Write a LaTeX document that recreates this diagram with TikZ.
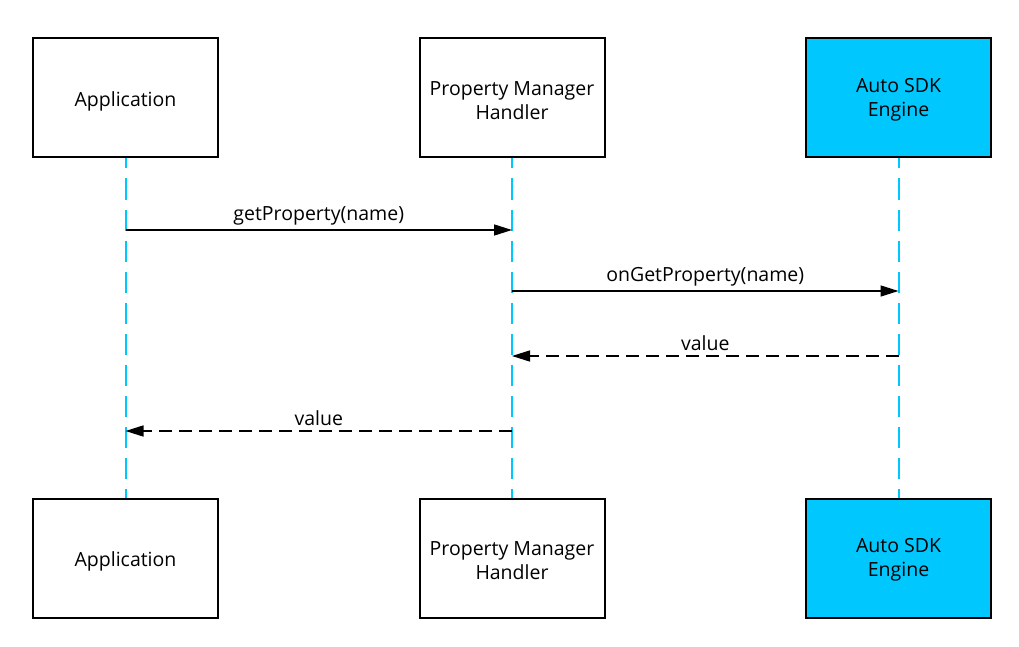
\documentclass[tikz,border=0pt]{standalone}
\usepackage{fontspec}
\setmainfont{Open Sans}
\usetikzlibrary{arrows.meta}
\newcommand{\dropline}[1]{\rule{0pt}{#1}}
\begin{document}
\begin{tikzpicture}[x=1pt,y=1pt,yscale=-1,xscale=1,
  actor/.style={draw, line width=2pt, minimum width=185pt, minimum height=119pt, inner sep=0pt, align=center, font=\fontsize{19.5}{24}\selectfont},
  engine/.style={actor, fill={rgb, 255:red, 0; green, 200; blue, 255 }},
  lifeline/.style={color={rgb, 255:red, 0; green, 200; blue, 255 }, line width=2pt, dash pattern=on 21pt off 10pt, dash phase=11pt},
  msg/.style={line width=1.5pt, -{Triangle[length=18pt,width=11pt]}},
  reply/.style={msg, dash pattern=on 13pt off 7pt},
  msglabel/.style={midway, above, inner sep=4.5pt, font=\fontsize{19.5}{22}\selectfont}]
\useasboundingbox (0,0) rectangle (1019,647);

%Shape: Rectangle [id:apptop] 
\node [actor] (apptop) at (125.5,98) {\dropline{20.8pt}Application};
%Shape: Rectangle [id:pmhtop] 
\node [actor] (pmhtop) at (512,98) {\dropline{20pt}Property Manager\\Handler};
%Shape: Rectangle [id:enginetop] 
\node [engine] (enginetop) at (898.5,98) {\dropline{18pt}Auto SDK\\Engine};
%Shape: Rectangle [id:appbot] 
\node [actor] (appbot) at (125.5,558) {\dropline{20.8pt}Application};
%Shape: Rectangle [id:pmhbot] 
\node [actor] (pmhbot) at (512,558) {\dropline{20pt}Property Manager\\Handler};
%Shape: Rectangle [id:enginebot] 
\node [engine] (enginebot) at (898.5,558) {\dropline{18pt}Auto SDK\\Engine};

%Straight Lines [id:lifelines] 
\draw [lifeline] (apptop) -- (appbot);
\draw [lifeline] (pmhtop) -- (pmhbot);
\draw [lifeline] (enginetop) -- (enginebot);

%Message points on the lifelines
\coordinate (app1) at (apptop.south |- 0,230);
\coordinate (pmh1) at (pmhtop.south |- 0,230);
\coordinate (pmh2) at (pmhtop.south |- 0,291);
\coordinate (engine2) at (enginetop.south |- 0,291);
\coordinate (engine3) at (enginetop.south |- 0,356);
\coordinate (pmh3) at (pmhtop.south |- 0,356);
\coordinate (pmh4) at (pmhtop.south |- 0,431);
\coordinate (app4) at (apptop.south |- 0,431);

%Straight Lines [id:messages] 
\draw [msg] (app1) -- (pmh1) node [msglabel] {getProperty(name)};
\draw [msg] (pmh2) -- (engine2) node [msglabel] {onGetProperty(name)};
\draw [reply] (engine3) -- (pmh3) node [msglabel] {value};
\draw [reply] (pmh4) -- (app4) node [msglabel] {value};

\end{tikzpicture}
\end{document}
